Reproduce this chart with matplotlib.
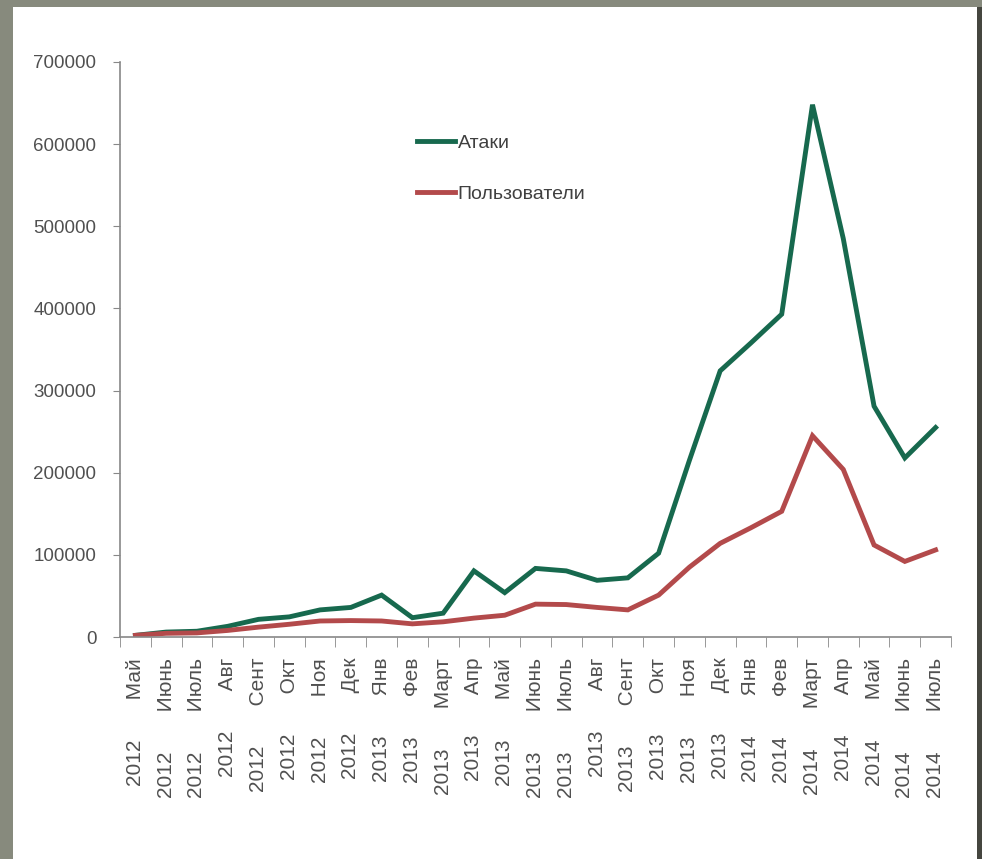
import numpy as np
import matplotlib
matplotlib.use("Agg")
from matplotlib import pyplot as plt
from matplotlib.patches import Rectangle

years = ["2012"] * 8 + ["2013"] * 12 + ["2014"] * 7
months = ["Май", "Июнь", "Июль", "Авг", "Сент", "Окт", "Ноя", "Дек",
          "Янв", "Фев", "Март", "Апр", "Май", "Июнь", "Июль", "Авг", "Сент", "Окт", "Ноя", "Дек",
          "Янв", "Фев", "Март", "Апр", "Май", "Июнь", "Июль"]

attacks = [2000, 6000, 7000, 13000, 21500, 24500, 33000, 36000,
           51000, 23500, 29000, 80500, 54000, 83500, 80500, 69000, 72000, 102000, 215000, 324000,
           358000, 393000, 648000, 485000, 281000, 218000, 255000]
users = [2000, 4500, 5000, 8000, 12000, 15500, 19500, 20000,
         19500, 16000, 18500, 23000, 26500, 40000, 39500, 36000, 33000, 51000, 85000, 114000,
         133000, 153000, 245000, 204000, 112000, 92000, 106000]

labels = [y + "       " + m for y, m in zip(years, months)]

green = "#17694e"
red = "#b34a4b"
grey_txt = "#505050"
sans = ["Liberation Sans", "DejaVu Sans"]

fig = plt.figure(figsize=(9.82, 8.59), dpi=100)
fig.patch.set_facecolor("#878a7d")
fig.patches.append(Rectangle((13 / 982, 0), (977 - 13) / 982, 1 - 7 / 859,
                             transform=fig.transFigure, facecolor="white",
                             edgecolor="none", zorder=-10))
fig.patches.append(Rectangle((977 / 982, 0), 5 / 982, 1 - 7 / 859,
                             transform=fig.transFigure, facecolor="#45463f",
                             edgecolor="none", zorder=-10))

ax = fig.add_axes([120 / 982, 1 - 637 / 859, (951 - 120) / 982, (637 - 62) / 859])
ax.set_facecolor("none")
ax.set_zorder(5)

x = np.arange(len(labels))
ax.plot(x, attacks, color=green, lw=3.5, label="Атаки", solid_joinstyle="miter")
ax.plot(x, users, color=red, lw=3.5, label="Пользователи", solid_joinstyle="miter")

ax.set_xlim(-0.5, len(labels) - 0.5)
ax.set_ylim(0, 700000)
ax.set_yticks(np.arange(0, 700001, 100000))
ax.set_yticklabels([str(v) for v in range(0, 700001, 100000)],
                   family=sans, fontsize=13.5, color=grey_txt)

ax.set_xticks(x)
ax.set_xticklabels(labels, rotation=90, fontsize=15, color=grey_txt, family=sans)
ax.set_xticks(np.arange(-0.5, len(labels), 1), minor=True)
ax.tick_params(axis="x", which="major", length=0, pad=15)
ax.tick_params(axis="x", which="minor", length=7, color="#888888", direction="out")
ax.tick_params(axis="y", length=5, color="#888888", pad=12)

for s in ["top", "right"]:
    ax.spines[s].set_visible(False)
for s in ["left", "bottom"]:
    ax.spines[s].set_color("#888888")
    ax.spines[s].set_linewidth(1.2)

leg = ax.legend(loc="upper left", bbox_to_anchor=(417 / 982, 1 - 134 / 859),
                bbox_transform=fig.transFigure, frameon=False,
                prop={"family": sans, "size": 14},
                handlelength=1.95, handletextpad=0.15, labelspacing=1.75,
                borderpad=0, borderaxespad=0)
for t in leg.get_texts():
    t.set_color("#404040")

fig.savefig("out.png", dpi=100)
